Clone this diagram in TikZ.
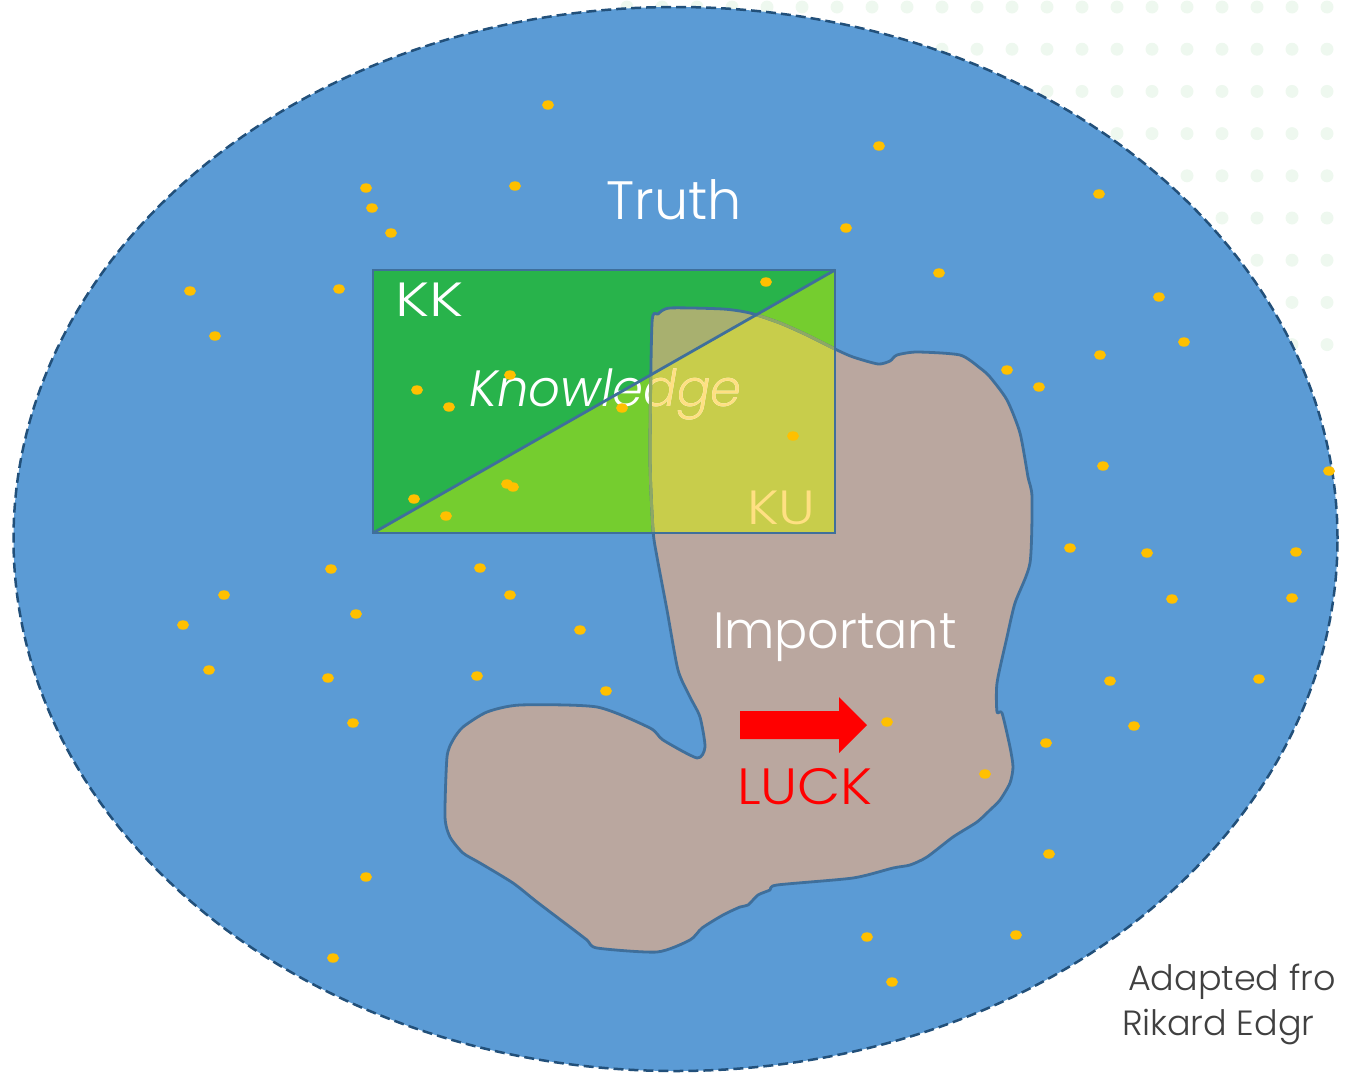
\documentclass[tikz,border=0pt]{standalone}
\usepackage{fontspec}
\setmainfont{Poppins}[UprightFont=* Light, ItalicFont=* Light Italic]
\definecolor{sky}{HTML}{5B9BD5}
\definecolor{rim}{HTML}{22507A}
\definecolor{kkgreen}{HTML}{28B34B}
\definecolor{kugreen}{HTML}{75CD2F}
\definecolor{edgeblue}{HTML}{3F6F9B}
\definecolor{tan}{HTML}{BAA79F}
\definecolor{ovup}{HTML}{A8B06F}
\definecolor{ovlo}{HTML}{C8CD4B}
\definecolor{paleyel}{HTML}{FFE082}
\definecolor{gold}{HTML}{FFC000}
\definecolor{bgdot}{HTML}{EEF8EF}
\definecolor{note}{HTML}{404040}
\definecolor{faintedge}{HTML}{8EA865}
\begin{document}
\begin{tikzpicture}[x=1pt,y=-1pt,
  lbl/.style={inner sep=0pt, outer sep=0pt},
  gdot/.style={fill=gold},
  pdot/.style={fill=bgdot}]
\def\blobpath{plot[smooth cycle, tension=0.4] coordinates {
 (652,323) (658,314) (670,308) (723,309) (750,313) (780,323) (807,335) (837,350) (853,357) (878,364) (890,361) (897,355) (917,352) (960,355) (980,368) (990,377) (1007,400) (1020,433) (1028,477) (1032,497) (1030,563) (1015,603) (1007,637) (997,683) (997,712) (1002,713) (1010,747) (1013,767) (1010,783) (1000,800) (990,810) (977,822) (953,837) (927,857) (910,865) (893,868) (853,878) (777,885) (770,890) (758,895) (748,905) (740,907) (723,915) (702,928) (690,940) (657,952) (597,948) (587,940) (570,927) (537,902) (513,883) (480,863) (463,853) (450,837) (445,817) (447,757) (453,740) (463,727) (487,712) (520,705) (597,707) (650,728) (663,740) (697,758) (705,747) (700,717) (690,697) (678,670) (667,610) (657,557) (653,530) (650,457)}}
\useasboundingbox (0,0) rectangle (1345,1074);
\clip (0,0) rectangle (1345,1074);
% background dot pattern
\foreach \i in {0,...,20}
  \foreach \j in {0,...,8}
    \fill[pdot] ({627+35*\i},{7+42.2*\j}) circle (6.5pt);
% truth ellipse
\fill[sky] (675.5,539) ellipse (662pt and 532pt);
\draw[rim, line width=2.5pt, dash pattern=on 10pt off 5pt] (675.5,539) ellipse (662pt and 532pt);
% important blob
\fill[tan] \blobpath;
% knowledge rectangle
\coordinate (r1) at (373,270);
\coordinate (r2) at (835,270);
\coordinate (r3) at (835,533);
\coordinate (r4) at (373,533);
\fill[kkgreen] (r4) -- (r1) -- (r2) -- cycle;
\fill[kugreen] (r4) -- (r2) -- (r3) -- cycle;
\begin{scope}
  \clip \blobpath;
  \fill[ovup] (r4) -- (r1) -- (r2) -- cycle;
  \fill[ovlo] (r4) -- (r2) -- (r3) -- cycle;
\end{scope}
% texts
\node[lbl, white, anchor=base] (truth) at (674,219) {\fontsize{54}{60}\selectfont Truth};
\node[lbl, white, anchor=base west, xscale=1.25] (kk) at (395,316) {\fontsize{48}{56}\selectfont KK};
\node[lbl, white, anchor=base west, xscale=0.975] (know) at (469,406) {\fontsize{51}{60}\selectfont\itshape Knowledge};
\begin{scope}
  \clip \blobpath;
  \node[lbl, paleyel, anchor=base west, xscale=0.975] (knowy) at (469,406) {\fontsize{51}{60}\selectfont\itshape Knowledge};
\end{scope}
\node[lbl, paleyel, anchor=base west, xscale=1.16] (ku) at (747,524) {\fontsize{48}{56}\selectfont KU};
\node[lbl, white, anchor=base west, xscale=0.965] (imp) at (713,648) {\fontsize{51}{60}\selectfont Important};
\node[lbl, red, anchor=base west, xscale=1.1] (luck) at (737,804) {\fontsize{51}{60}\selectfont LUCK};
% blob border
\draw[edgeblue, line width=2.8pt, line join=round] \blobpath;
\begin{scope}
  \clip (r4) -- (r2) -- (r3) -- cycle;
  \draw[faintedge, line width=2.9pt, line join=round] \blobpath;
\end{scope}
% rectangle border and diagonal
\draw[edgeblue, line width=2.8pt] (r1) -- (r2) -- (r3) -- (r4) -- cycle;
\draw[edgeblue, line width=2.8pt] (r4) -- (r2);
% red arrow
\fill[red] (740,711) -- (839,711) -- (839,697) -- (867,725) -- (839,753) -- (839,739) -- (740,739) -- cycle;
% gold dots
\foreach \p in {(548,105),(879,146),(366,188),(515,186),(372,208),(391,233),(846,228),(1099,194),
  (190,291),(339,289),(939,273),(766,282),(1159,297),(215,336),(1184,342),(1100,355),(1007,370),
  (1039,387),(417,390),(449,407),(510,375),(622,408),(793,436),(1103,466),(1329,471),(414,499),
  (507,484),(513,487),(446,516),(1070,548),(1147,553),(1296,552),(331,569),(480,568),(1172,599),
  (1292,598),(224,595),(510,595),(356,614),(183,625),(580,630),(209,670),(328,678),(477,676),
  (606,691),(1110,681),(1259,679),(353,723),(887,722),(1134,726),(1046,743),(985,774),(1049,854),
  (366,877),(867,937),(1016,935),(333,958),(892,982)}
  \fill[gdot] \p ellipse (6pt and 4.7pt);
% attribution (cut by the right edge in the reference)
\node[lbl, note, anchor=base west] (src1) at (1128,990) {\fontsize{35}{42}\selectfont Adapted fro};
\node[lbl, note, anchor=base west] (src2) at (1122,1035) {\fontsize{35}{42}\selectfont Rikard Edgr};
\end{tikzpicture}
\end{document}
